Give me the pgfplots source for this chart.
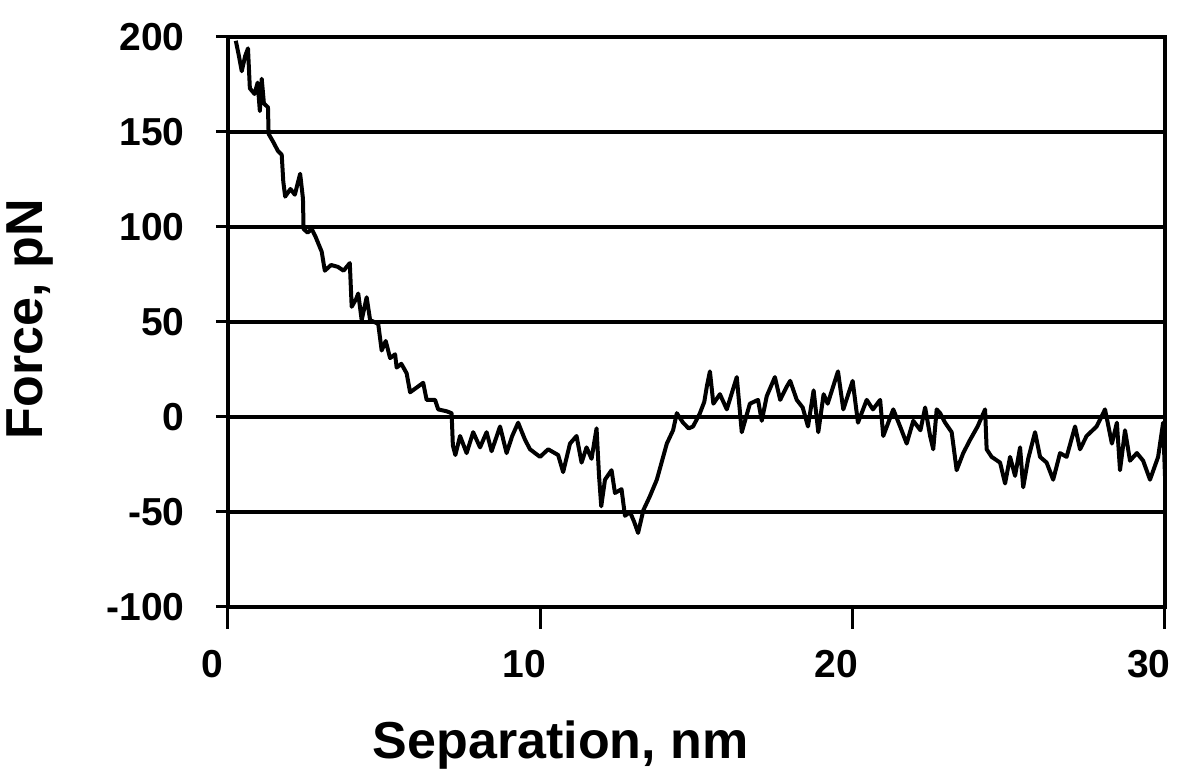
\documentclass[border=0pt]{standalone}
\usepackage{pgfplots}
\pgfplotsset{compat=1.18}
\usepackage{fontspec}
\setmainfont{Liberation Sans}
\begin{document}
\begin{tikzpicture}[x=1pt,y=1pt]
\path[use as bounding box] (-114pt,-86.5pt) rectangle (481.5pt,303.5pt);
\begin{axis}[
  scale only axis, width=468.5pt, height=285pt,
  at={(0pt,0pt)}, anchor=south west,
  xmin=0, xmax=30, ymin=-100, ymax=200,
  xtick={0,10,20,30}, ytick={-100,-50,0,50,100,150,200},
  ymajorgrids, grid style={black, line width=1.8pt},
  axis line style={line width=1.8pt},
  tick style={black, line width=1.5pt},
  tick align=outside,
  x tick style={/pgfplots/major tick length=11pt},
  y tick style={/pgfplots/major tick length=6pt},
  xtick pos=bottom, ytick pos=left,
  /pgf/number format/assume math mode=true,
  ticklabel style={font=\fontsize{19.5}{20}\selectfont\bfseries},
  yticklabel style={xshift=-14pt},
  xticklabel style={yshift=-14pt, xshift=-8pt},
  xlabel={Separation, nm}, ylabel={Force, pN},
  label style={font=\fontsize{26}{28}\selectfont\bfseries},
  xlabel style={at={(axis description cs:0.355,-0.242)}, anchor=center},
  ylabel style={at={(axis description cs:-0.211,0.505)}, anchor=center, rotate=0},
]
\addplot[black, line width=2pt, line join=round] coordinates {
(0.25,198) (0.35,190) (0.44,182) (0.55,190) (0.64,194) (0.70,173) (0.85,170) (0.95,176)
(1.02,161) (1.08,178) (1.15,165) (1.28,163) (1.30,149) (1.44,145) (1.60,140) (1.72,138)
(1.77,124) (1.83,116) (2.00,120) (2.14,117) (2.31,128) (2.40,115) (2.42,99) (2.55,97)
(2.68,99) (2.80,95) (3.00,87) (3.10,77) (3.30,80) (3.52,79) (3.70,77) (3.90,81)
(3.96,58) (4.10,62) (4.17,65) (4.28,51) (4.44,63) (4.55,51) (4.81,49) (4.92,35)
(5.05,40) (5.19,31) (5.35,33) (5.40,26) (5.55,28) (5.72,23) (5.83,13) (6.00,15)
(6.25,18) (6.36,9) (6.63,9) (6.73,4) (7.00,3) (7.16,2) (7.20,-15) (7.28,-20)
(7.43,-10) (7.64,-19) (7.85,-8) (8.07,-16) (8.28,-8) (8.44,-18) (8.71,-5) (8.92,-19)
(9.10,-10) (9.29,-3) (9.51,-12) (9.67,-17) (9.99,-21) (10.25,-17) (10.57,-20) (10.73,-29)
(10.95,-14) (11.16,-10) (11.32,-24) (11.48,-16) (11.64,-22) (11.80,-6) (11.88,-31) (11.95,-47)
(12.07,-33) (12.28,-28) (12.39,-40) (12.60,-38) (12.71,-52) (12.87,-50) (13.00,-55) (13.13,-61)
(13.30,-49) (13.50,-42) (13.73,-33) (14.05,-14) (14.25,-7) (14.37,2) (14.57,-3) (14.75,-6)
(14.89,-5) (15.11,2) (15.25,8) (15.33,16) (15.43,24) (15.54,7) (15.75,12) (15.97,4)
(16.29,21) (16.45,-8) (16.71,7) (16.97,9) (17.09,-2) (17.25,11) (17.51,21) (17.68,9)
(17.89,16) (18.00,19) (18.21,9) (18.40,5) (18.57,-5) (18.75,14) (18.90,-8) (19.07,12)
(19.20,7) (19.53,24) (19.70,4) (20.00,19) (20.17,-3) (20.45,9) (20.65,4) (20.88,9)
(20.98,-10) (21.30,4) (21.52,-5) (21.73,-14) (21.94,-2) (22.17,-7) (22.32,5) (22.48,-10)
(22.58,-17) (22.69,4) (22.80,2) (22.96,-3) (23.17,-8) (23.33,-28) (23.54,-19) (23.76,-12)
(24.00,-5) (24.24,4) (24.29,-17) (24.45,-21) (24.72,-24) (24.88,-35) (25.04,-21) (25.20,-31)
(25.36,-16) (25.46,-37) (25.62,-22) (25.84,-8) (26.00,-21) (26.21,-24) (26.42,-33) (26.64,-19)
(26.85,-21) (27.12,-5) (27.28,-17) (27.49,-10) (27.81,-5) (28.08,4) (28.30,-14) (28.46,-3)
(28.56,-28) (28.72,-7) (28.88,-23) (29.10,-19) (29.30,-23) (29.52,-33) (29.78,-21) (29.94,-3)
(30.00,-31)
};
\end{axis}
\end{tikzpicture}
\end{document}
